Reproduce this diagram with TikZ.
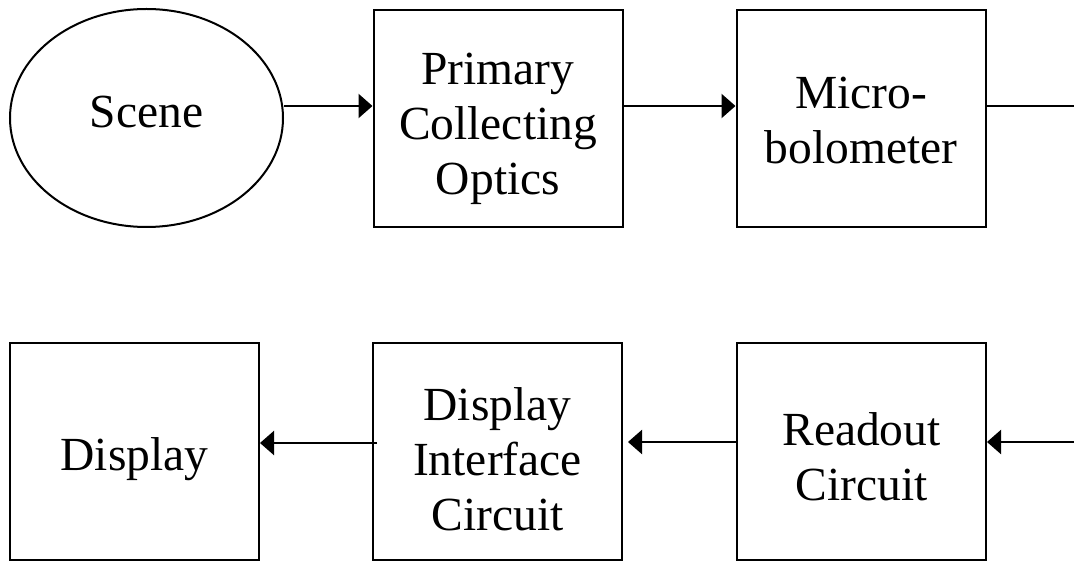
\documentclass[tikz,border=0pt]{standalone}
\usepackage{fontspec}
\setmainfont{Liberation Serif}
\usetikzlibrary{arrows.meta,shapes.geometric}
\newcommand\boxtext[2]{\raisebox{#1}[0pt][0pt]{\begin{tabular}[b]{@{}c@{}}#2\end{tabular}}}
\begin{document}
\begin{tikzpicture}[x=1pt,y=-1pt,
  blk/.style={draw, line width=2pt, minimum width=249pt, minimum height=217pt, inner sep=0pt,
    font=\fontsize{47.5pt}{55pt}\selectfont},
  ell/.style={draw, ellipse, line width=2pt, minimum width=273pt, minimum height=218pt, inner sep=0pt,
    font=\fontsize{47.5pt}{55pt}\selectfont},
  conn/.style={line width=2.2pt, -{Triangle[length=14pt,width=24pt]}},
  plain/.style={line width=2.2pt}]
\useasboundingbox (0,0) rectangle (1074,561);
\node[ell] (scene) at (146.5,118) {\boxtext{-10pt}{Scene}};
\node[blk] (pco) at (498,118.5) {\boxtext{-76.5pt}{Primary\\Collecting\\Optics}};
\node[blk] (mb) at (861,118.5) {\boxtext{-45.5pt}{Micro-\\bolometer}};
\node[blk] (disp) at (134.5,451.5) {\boxtext{-18.5pt}{Display}};
\node[blk] (dic) at (497.5,451.5) {\boxtext{-78.5pt}{Display\\Interface\\Circuit}};
\node[blk] (roc) at (861.5,451.5) {\boxtext{-48.5pt}{Readout\\Circuit}};
\coordinate (outT) at (1074,106);
\coordinate (inB) at (1074,442);
\draw[conn] (scene.east |- 0,106) -- (pco.west |- 0,106);
\draw[conn] (pco.east |- 0,106) -- (mb.west |- 0,106);
\draw[plain] (mb.east |- outT) -- (outT);
\draw[conn] (inB) -- (roc.east |- inB);
\draw[conn] (roc.west |- 0,442) -- ([xshift=5pt]dic.east |- 0,442);
\draw[conn] ([xshift=5pt]dic.west |- 0,443) -- (disp.east |- 0,443);
\end{tikzpicture}
\end{document}
